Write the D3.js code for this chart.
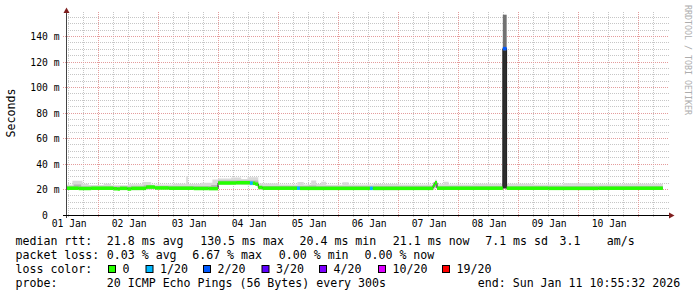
<!DOCTYPE html>
<html>
<head>
<meta charset="utf-8">
<script src="https://cdn.jsdelivr.net/npm/d3@7"></script>
<style>
  body { margin: 0; background: #fff; }
  svg text { font-family: "DejaVu Sans Mono", monospace; }
</style>
</head>
<body>
<svg></svg>
<script>
var width  = 697,
    height = 297;

var parse = d3.timeParse("%Y-%m-%d %H:%M");
var startTime = d3.timeParse("%Y-%m-%d %H:%M:%S")("2026-01-01 10:55:32"),
    endTime   = d3.timeParse("%Y-%m-%d %H:%M:%S")("2026-01-11 10:55:32");

// y ticks (ms) and their labels
var yTicks  = [0, 20, 40, 60, 80, 100, 120, 140];
var yLabels = ["0", "20 m", "40 m", "60 m", "80 m", "100 m", "120 m", "140 m"];

// day labels sit at noon
var dayTicks = ["2026-01-01 12:00", "2026-01-02 12:00", "2026-01-03 12:00", "2026-01-04 12:00", "2026-01-05 12:00",
                "2026-01-06 12:00", "2026-01-07 12:00", "2026-01-08 12:00", "2026-01-09 12:00", "2026-01-10 12:00"];

// median rtt [time, ms, lost pings of 20], step changes
var median = [
  ["2026-01-01 11:20", 21.0, 0],
  ["2026-01-01 16:00", 20.8, 0],
  ["2026-01-01 21:00", 21.0, 0],
  ["2026-01-02 06:00", 20.6, 0],
  ["2026-01-02 07:30", 20.4, 0],
  ["2026-01-02 08:30", 20.9, 0],
  ["2026-01-02 11:30", 20.4, 0],
  ["2026-01-02 13:00", 20.9, 0],
  ["2026-01-02 19:00", 21.9, 0],
  ["2026-01-02 22:30", 21.2, 0],
  ["2026-01-03 04:00", 21.0, 0],
  ["2026-01-03 14:00", 20.8, 0],
  ["2026-01-03 20:00", 20.7, 0],
  ["2026-01-03 23:45", 25.1, 0],
  ["2026-01-04 07:00", 25.3, 0],
  ["2026-01-04 12:30", 25.0, 1],
  ["2026-01-04 13:40", 24.9, 0],
  ["2026-01-04 14:40", 24.2, 0],
  ["2026-01-04 15:50", 21.6, 0],
  ["2026-01-04 17:30", 21.0, 0],
  ["2026-01-05 07:20", 21.0, 1],
  ["2026-01-05 08:30", 20.9, 0],
  ["2026-01-06 12:30", 20.9, 1],
  ["2026-01-06 13:40", 20.9, 0],
  ["2026-01-07 13:45", 23.2, 0],
  ["2026-01-07 14:30", 25.3, 0],
  ["2026-01-07 15:20", 21.0, 0],
  ["2026-01-08 17:40", 130.5, 2],
  ["2026-01-08 19:10", 21.0, 0],
  ["2026-01-09 12:00", 20.9, 0],
  ["2026-01-10 08:00", 21.0, 0],
  ["2026-01-11 09:40", null, 0]
];

// outer smoke [time, min ms, max ms]
var smokeOuter = [
  ["2026-01-01 11:20", 19.8, 23.8],
  ["2026-01-01 13:30", 19.6, 26.8],
  ["2026-01-01 17:30", 19.8, 24.5],
  ["2026-01-01 20:00", 20.0, 23.6],
  ["2026-01-02 02:00", 19.7, 24.6],
  ["2026-01-02 05:00", 19.8, 23.4],
  ["2026-01-02 12:00", 19.4, 24.2],
  ["2026-01-02 17:30", 19.8, 25.8],
  ["2026-01-02 21:00", 20.0, 24.0],
  ["2026-01-03 06:00", 19.8, 24.6],
  ["2026-01-03 11:00", 19.8, 30.5],
  ["2026-01-03 11:40", 19.7, 24.4],
  ["2026-01-03 17:00", 19.6, 25.2],
  ["2026-01-03 21:30", 19.8, 27.8],
  ["2026-01-03 23:45", 23.6, 28.6],
  ["2026-01-04 05:00", 23.8, 29.4],
  ["2026-01-04 09:00", 23.5, 28.2],
  ["2026-01-04 11:30", 23.4, 29.6],
  ["2026-01-04 15:50", 19.8, 24.8],
  ["2026-01-05 00:00", 19.7, 24.0],
  ["2026-01-05 07:30", 19.6, 25.8],
  ["2026-01-05 10:00", 19.8, 24.0],
  ["2026-01-05 13:00", 19.7, 27.0],
  ["2026-01-05 15:00", 19.8, 24.4],
  ["2026-01-05 17:00", 19.7, 26.0],
  ["2026-01-05 19:00", 19.8, 23.8],
  ["2026-01-06 01:30", 19.6, 25.6],
  ["2026-01-06 04:00", 19.8, 24.0],
  ["2026-01-06 14:00", 19.5, 24.4],
  ["2026-01-07 00:00", 19.8, 23.9],
  ["2026-01-07 13:45", 20.0, 25.6],
  ["2026-01-07 14:30", 21.0, 27.6],
  ["2026-01-07 15:20", 19.8, 24.2],
  ["2026-01-07 18:00", 19.7, 26.0],
  ["2026-01-07 20:00", 19.8, 24.0],
  ["2026-01-08 06:00", 19.6, 24.6],
  ["2026-01-08 17:40", 21.0, 157.0],
  ["2026-01-08 19:10", 19.8, 24.6],
  ["2026-01-09 06:00", 19.7, 24.0],
  ["2026-01-09 18:00", 19.8, 25.0],
  ["2026-01-10 06:00", 19.6, 24.2],
  ["2026-01-10 18:00", 19.8, 24.6],
  ["2026-01-11 09:40", null, null]
];

// inner smoke [time, lo ms, hi ms]
var smokeInner = [
  ["2026-01-01 11:20", 20.6, 22.6],
  ["2026-01-01 14:00", 20.6, 24.0],
  ["2026-01-01 17:00", 20.6, 22.4],
  ["2026-01-02 18:00", 20.8, 23.4],
  ["2026-01-02 22:00", 20.6, 22.6],
  ["2026-01-03 21:00", 20.6, 23.6],
  ["2026-01-03 23:45", 24.6, 27.0],
  ["2026-01-04 15:50", 20.7, 22.8],
  ["2026-01-05 12:00", 20.6, 23.2],
  ["2026-01-05 15:00", 20.6, 22.6],
  ["2026-01-07 14:00", 21.6, 25.8],
  ["2026-01-07 15:20", 20.6, 22.6],
  ["2026-01-11 09:40", null, null]
];

// the spike on 08 Jan
var smokeCore = [["2026-01-08 17:40", 21.0, 157.0], ["2026-01-08 19:10", null, null]];
var smokeDeep = [["2026-01-08 17:40", 21.0, 129.0], ["2026-01-08 19:10", null, null]];

var lossSteps  = [0, 1, 2, 3, 4, 10, 19];
var lossColors = ["#26ff00", "#00b8ff", "#0059ff", "#5e00ff", "#7e00ff", "#dd00ff", "#ff0000"];
var lossLabels = ["0", "1/20", "2/20", "3/20", "4/20", "10/20", "19/20"];

var rttLine   = ["median rtt:", "21.8 ms avg", "130.5 ms max", "20.4 ms min", "21.1 ms now", "7.1 ms sd", "3.1", "am/s"];
var lossLine  = ["packet loss:", "0.03 % avg", "6.67 % max", "0.00 % min", "0.00 % now"];
var probeLine = ["probe:", "20 ICMP Echo Pings (56 Bytes) every 300s", "end: Sun Jan 11 10:55:32 2026"];

// legend layout (x of each item)
var rttX   = [15.5, 106.8, 200.2, 299.5, 392.8, 485.2, 559.5, 606.8];
var lossX  = [15.5, 106.8, 192.2, 278.8, 364.5];
var probeX = [15.5, 106.8, 477.8];
var boxX   = [108, 145.5, 203, 261.5, 319, 378, 442];

var x = d3.scaleTime().domain([startTime, endTime]).range([66, 666]);
var y = d3.scaleLinear().domain([0, 160]).range([215, 11]);

var svg = d3.select("svg")
  .attr("width", width)
  .attr("height", height);

function crisp(v) { return Math.floor(v) + 0.5; }

// grid
var grid = svg.append("g");
var hMinor = d3.range(5, 160, 5).filter(function(v) { return v % 20 != 0; });
var hMajor = d3.range(20, 160, 20);
grid.selectAll(".hmin").data(hMinor).enter().append("line")
  .attr("x1", 66).attr("x2", 669)
  .attr("y1", function(d) { return crisp(y(d)); })
  .attr("y2", function(d) { return crisp(y(d)); })
  .attr("stroke", "#c6c6c6").attr("stroke-dasharray", "1,1");
var vAll = d3.timeHour.every(6).range(startTime, endTime);
var vMinor = vAll.filter(function(d) { return d.getHours() != 0; });
var vMajor = vAll.filter(function(d) { return d.getHours() == 0; });
grid.selectAll(".vmin").data(vMinor).enter().append("line")
  .attr("x1", function(d) { return crisp(x(d)); })
  .attr("x2", function(d) { return crisp(x(d)); })
  .attr("y1", 12).attr("y2", 217)
  .attr("stroke", "#c6c6c6").attr("stroke-dasharray", "1,1");
grid.selectAll(".hmaj").data(hMajor).enter().append("line")
  .attr("x1", 63).attr("x2", 669)
  .attr("y1", function(d) { return crisp(y(d)); })
  .attr("y2", function(d) { return crisp(y(d)); })
  .attr("stroke", "#e49c9c").attr("stroke-dasharray", "1,1");
grid.selectAll(".vmaj").data(vMajor).enter().append("line")
  .attr("x1", function(d) { return crisp(x(d)); })
  .attr("x2", function(d) { return crisp(x(d)); })
  .attr("y1", 12).attr("y2", 218)
  .attr("stroke", "#e49c9c").attr("stroke-dasharray", "1,1");

// step helpers
function stepPoints(rows) {
  var pts = [];
  rows.forEach(function(r, i) {
    pts.push({t: parse(r[0]), v: r.slice(1)});
    var next = rows[i + 1];
    if (next && r[1] != null && next[1] == null) pts.push({t: parse(next[0]), v: r.slice(1)});
  });
  return pts;
}

var band = d3.area()
  .curve(d3.curveStepAfter)
  .defined(function(d) { return d.v[0] != null; })
  .x(function(d) { return x(d.t); })
  .y0(function(d) { return y(d.v[0]); })
  .y1(function(d) { return y(d.v[1]); });

var plot = svg.append("g");
plot.append("path").attr("d", band(stepPoints(smokeOuter))).attr("fill", "#d9d9d9");
plot.append("path").attr("d", band(stepPoints(smokeInner))).attr("fill", "#b4b4b4");
plot.append("path").attr("d", band(stepPoints(smokeCore))).attr("fill", "#727272");
plot.append("path").attr("d", band(stepPoints(smokeDeep))).attr("fill", "#2e2e2e");

// dark median line
var medLine = d3.line()
  .curve(d3.curveStepAfter)
  .defined(function(d) { return d.v[0] != null; })
  .x(function(d) { return x(d.t); })
  .y(function(d) { return y(d.v[0]); });
plot.append("path").attr("d", medLine(stepPoints(median)))
  .attr("fill", "none").attr("stroke", "#202020").attr("stroke-width", 1);

// loss coloured median band
function lossColor(n) {
  var c = lossColors[0];
  lossSteps.forEach(function(s, i) { if (n >= s) c = lossColors[i]; });
  return c;
}
var segs = d3.pairs(median).filter(function(p) { return p[0][1] != null; });
plot.selectAll(".seg").data(segs).enter().append("rect")
  .attr("x", function(p) { return x(parse(p[0][0])); })
  .attr("width", function(p) { return x(parse(p[1][0])) - x(parse(p[0][0])); })
  .attr("y", function(p) { return y(p[0][1]) - 1.75; })
  .attr("height", 3.5)
  .attr("fill", function(p) { return lossColor(p[0][2]); });

// axes lines + arrows
svg.append("line").attr("x1", 66.5).attr("x2", 66.5).attr("y1", 218).attr("y2", 11)
  .attr("stroke", "#444");
svg.append("line").attr("x1", 63).attr("x2", 670).attr("y1", 215.5).attr("y2", 215.5)
  .attr("stroke", "#000");
svg.append("path").attr("d", "M66.5,7.5L63.5,13L69.5,13Z").attr("fill", "#7f1f1f");
svg.append("path").attr("d", "M674.5,215.5L669,212.5L669,218.5Z").attr("fill", "#7f1f1f");

// tick labels
var yAxis = svg.append("g").attr("transform", "translate(66,0)")
  .call(d3.axisLeft(y).tickValues(yTicks).tickSize(0).tickPadding(6.5)
    .tickFormat(function(d, i) { return yLabels[i]; }));
// the unitless zero keeps the blank unit column free
yAxis.selectAll("text").filter(function(d) { return d === 0; }).attr("dx", "-11.7");
var xAxis = svg.append("g").attr("transform", "translate(0,215)")
  .call(d3.axisBottom(x).tickValues(dayTicks.map(parse)).tickSize(0).tickPadding(5)
    .tickFormat(d3.timeFormat("%d %b")));
[yAxis, xAxis].forEach(function(a) {
  a.select(".domain").remove();
  a.selectAll("text").attr("fill", "#000")
    .style("font-family", "'DejaVu Sans Mono', monospace").style("font-size", "9.7px");
});

// vertical label + watermark
svg.append("text").attr("transform", "translate(15,113) rotate(-90)")
  .attr("text-anchor", "middle").style("font-size", "11.6px").attr("fill", "#000").text("Seconds");
svg.append("text").attr("transform", "translate(685,5) rotate(90)")
  .style("font-size", "8.3px").attr("fill", "#adadad").text("RRDTOOL / TOBI OETIKER");

// legend
var legend = svg.append("g").style("font-size", "11.6px").attr("fill", "#000");
function legendRow(items, xs, base) {
  items.forEach(function(t, i) {
    legend.append("text").attr("x", xs[i]).attr("y", base).text(t);
  });
}
legendRow(rttLine, rttX, 245);
legendRow(lossLine, lossX, 259);
legendRow(probeLine, probeX, 287);
legend.append("text").attr("x", 15.5).attr("y", 273).text("loss color:");
lossLabels.forEach(function(l, i) {
  legend.append("rect").attr("x", boxX[i] + 0.5).attr("y", 265.5).attr("width", 7).attr("height", 7)
    .attr("fill", lossColors[i]).attr("stroke", "#000");
  legend.append("text").attr("x", boxX[i] + 14.5).attr("y", 273).text(l);
});
</script>
</body>
</html>
